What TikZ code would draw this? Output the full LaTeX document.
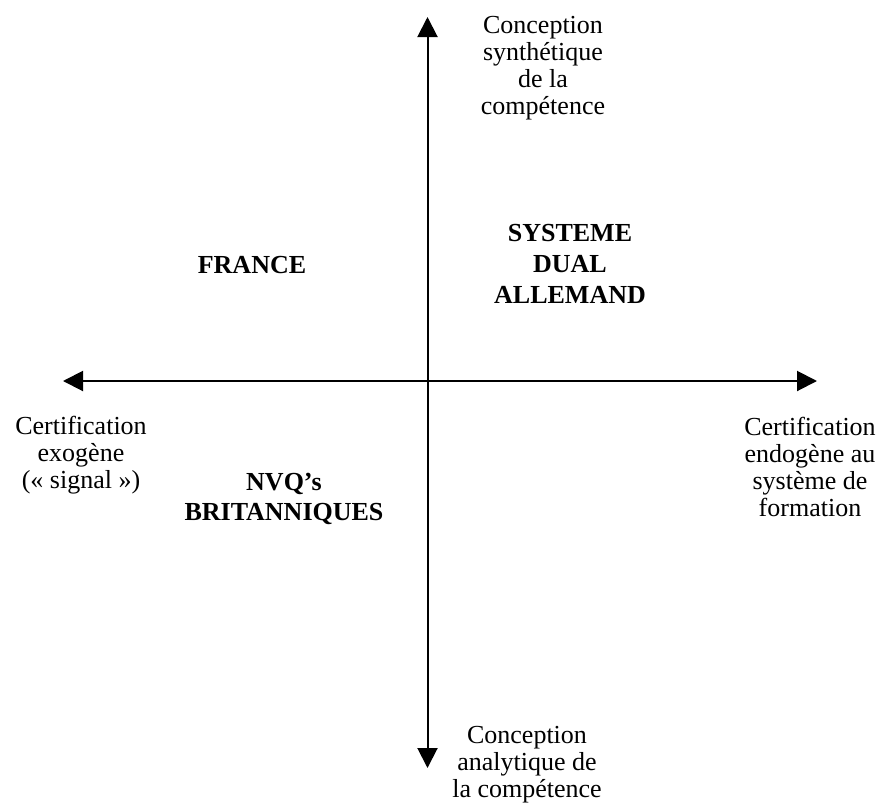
\documentclass[tikz,border=0pt]{standalone}
\usepackage{fontspec}
\setmainfont{Liberation Serif}
\usetikzlibrary{arrows.meta}

\begin{document}
\begin{tikzpicture}[x=0.75pt,y=-0.75pt,
  axis/.style={line width=1.5pt, {Triangle[length=15pt,width=15pt]}-{Triangle[length=15pt,width=15pt]}},
  pole/.style={align=center, inner sep=0pt, font=\fontsize{19.5pt}{20.2pt}\selectfont},
  country/.style={pole, font=\fontsize{19.5pt}{23pt}\selectfont\bfseries}]
\useasboundingbox (0,0) rectangle (882,807);
%Axes
\coordinate (top) at (427.5,17);
\coordinate (bottom) at (427.5,768);
\coordinate (left) at (63,381);
\coordinate (right) at (817,381);
\draw[axis] (bottom) -- (top);
\draw[axis] (left) -- (right);
%Poles of the axes
\node[pole] (synth) at (543,68) {Conception\\synthétique\\de la\\compétence};
\node[pole] (analyt) at (527,765) {Conception\\analytique de\\la compétence};
\node[pole] (exo) at (81,455) {Certification\\exogène\\(« signal »)};
\node[pole] (endo) at (810,467) {Certification\\endogène au\\système de\\formation};
%Countries
\node[country] (france) at (252,265) {FRANCE};
\node[country] (dual) at (570,264) {SYSTEME\\DUAL\\ALLEMAND};
\node[country] (nvq) at (284,499) {NVQ’s\\BRITANNIQUES};
\end{tikzpicture}
\end{document}
